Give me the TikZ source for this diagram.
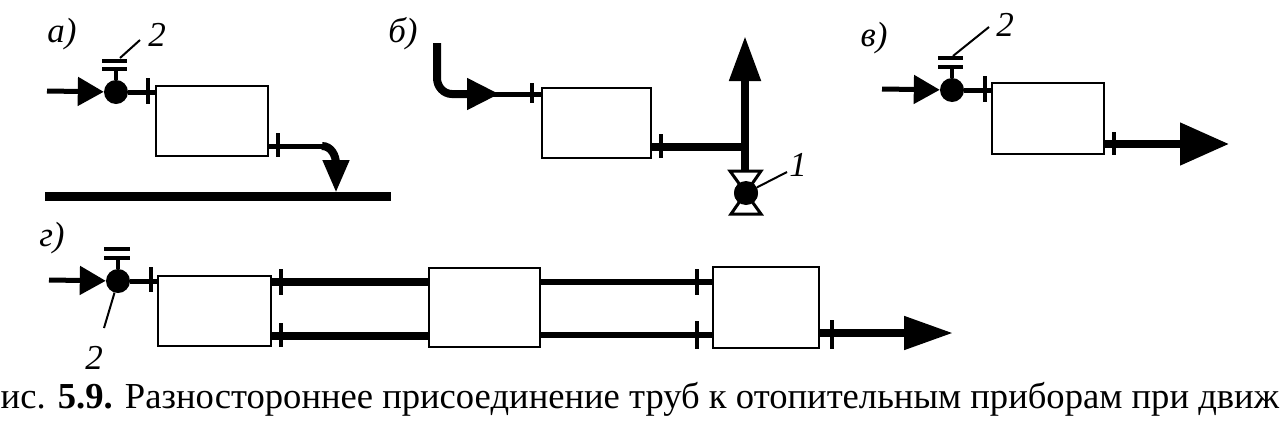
\documentclass[tikz,border=0pt]{standalone}
\usepackage{fontspec}
\setmainfont{Liberation Serif}
\usetikzlibrary{arrows.meta}
\tikzset{
  radiator/.style={draw,line width=2.8pt,fill=white,inner sep=0pt},
  valve/.style={circle,fill=black,inner sep=0pt,minimum size=24pt},
  pipe/.style={line width=5pt},
  widepipe/.style={line width=8pt},
  flange/.style={line width=3.6pt},
  leader/.style={line width=2pt},
  plate/.style={line width=4pt},
  tag/.style={font=\itshape\fontsize{35}{35}\selectfont,inner sep=0pt},
  inflow/.style={-{Triangle[length=26pt,width=28pt]}},
}
\begin{document}
\begin{tikzpicture}[x=1pt,y=-1pt]
    \useasboundingbox (0,0) rectangle (1284,429);
    % a
    \node [tag] (tagA) at (62,34) {а)};
    \node [radiator,minimum width=112pt,minimum height=70pt] (boxA) at (212,121) {};
    \node [valve] (valveA) at (116,92) {};
    \coordinate (inA) at (47,91);
    \coordinate (outA) at (322,146);
    \coordinate (dropA) at (336,192);
    \draw [pipe,inflow] (inA) -- (valveA);
    \draw [pipe] (valveA) -- (valveA -| boxA.west);
    \draw [pipe] (outA -| boxA.east) -- (outA);
    \draw [widepipe] (outA) to [out=0,in=90] (336,164);
    \draw [pipe,-{Triangle[length=32pt,width=26pt]}] (336,160) -- (dropA);
    \draw [line width=9pt] (45,196.5) -- (391,196.5);
    \foreach \x/\a/\b in {148/78/104,278/133/157}
    \draw [flange] (\x,\a)--(\x,\b);
    \foreach \y in {61,69}
    \draw [plate] (102,\y)--(127,\y);
    \draw [flange] (valveA) -- (116,69);
    \node [tag] (twoA) at (157,35) {2};
    \coordinate (endA) at (120,58);
    \draw [leader] (endA) -- (140,40);
    % b
    \node [tag] (tagB) at (403,34) {б)};
    \node [radiator,minimum width=109pt,minimum height=70pt] (boxB) at (596.5,123) {};
    \coordinate (inB) at (437,43);
    \coordinate (tipB) at (499,94);
    \coordinate (midB) at (490,94);
    \coordinate (teeB) at (745,147);
    \coordinate (topB) at (745,36);
    \node [valve] (valveB) at (746,193) {};
    \draw [widepipe] (inB) -- (437,78) to [out=270,in=180] (452,94) -- (470,94);
    \draw [pipe,-{Triangle[length=32pt,width=31pt]}] (460,94) -- (tipB);
    \draw [pipe] (midB) -- (midB -| boxB.west);
    \draw [widepipe] (teeB -| boxB.east) -- (teeB);
    \draw [widepipe,-{Triangle[length=45pt,width=30pt]}] (745,170) -- (topB);
    \draw [line width=3pt,fill=white] (730,171) -- (761,171) -- (731,214) -- (761,214) -- cycle;
    \node [valve] at (valveB) {};
    \foreach \x/\a/\b in {532/83/103,661/134/158}
    \draw [flange] (\x,\a)--(\x,\b);
    \node [tag] (oneB) at (798,165) {1};
    \coordinate (endB) at (787,172);
    \draw [leader] (valveB) -- (endB);
    % v
    \node [tag] (tagC) at (874,38) {в)};
    \node [radiator,minimum width=112pt,minimum height=71pt] (boxC) at (1048,118.5) {};
    \node [valve] (valveC) at (952,90) {};
    \coordinate (inC) at (882,89);
    \coordinate (outC) at (1229,144);
    \draw [pipe,inflow] (inC) -- (valveC);
    \draw [pipe] (valveC) -- (valveC -| boxC.west);
    \draw [widepipe,-{Triangle[length=49pt,width=41pt]}] (outC -| boxC.east) -- (outC);
    \foreach \x/\a/\b in {985/76/102,1114/132/155}
    \draw [flange] (\x,\a)--(\x,\b);
    \foreach \y in {58,67}
    \draw [plate] (938,\y)--(963,\y);
    \draw [flange] (valveC) -- (952,67);
    \node [tag] (twoC) at (1005,25) {2};
    \coordinate (endC) at (953,56);
    \draw [leader] (endC) -- (989,27);
    % g
    \node [tag] (tagD) at (52,238) {г)};
    \node [radiator,minimum width=113pt,minimum height=70pt] (boxD) at (214.5,311) {};
    \node [radiator,minimum width=111pt,minimum height=79pt] (boxE) at (484.5,307.5) {};
    \node [radiator,minimum width=106pt,minimum height=81pt] (boxF) at (766,307.5) {};
    \node [valve] (valveD) at (118,281) {};
    \coordinate (inD) at (49,280);
    \coordinate (upperD) at (271,282);
    \coordinate (lowerD) at (271,336);
    \coordinate (upperE) at (540,282);
    \coordinate (lowerE) at (540,335);
    \coordinate (outD) at (953,333);
    \draw [pipe,inflow] (inD) -- (valveD);
    \draw [pipe] (valveD) -- (valveD -| boxD.west);
    \draw [widepipe] (upperD) -- (upperD -| boxE.west);
    \draw [widepipe] (lowerD) -- (lowerD -| boxE.west);
    \draw [line width=6.5pt] (upperE) -- (upperE -| boxF.west);
    \draw [line width=6.5pt] (lowerE) -- (lowerE -| boxF.west);
    \draw [widepipe,-{Triangle[length=49pt,width=32pt]}] (outD -| boxF.east) -- (outD);
    \foreach \x/\a/\b in {151/267/292,281/269/295,281/323/347,697/269/295,697/321/349,832/320/349}
    \draw [flange] (\x,\a)--(\x,\b);
    \foreach \y in {249,258}
    \draw [plate] (104,\y)--(130,\y);
    \draw [flange] (valveD) -- (118,258);
    \node [tag] (twoD) at (94,358) {2};
    \coordinate (endD) at (104,328);
    \draw [leader] (valveD) -- (endD);
    % caption
    \node [anchor=base west,inner sep=0pt,font=\fontsize{36.6}{36.6}\selectfont] (caption) at (0.5,408)
      {ис. \textbf{5.9.} Разностороннее присоединение труб к отопительным приборам при движ};
  \end{tikzpicture}
\end{document}
